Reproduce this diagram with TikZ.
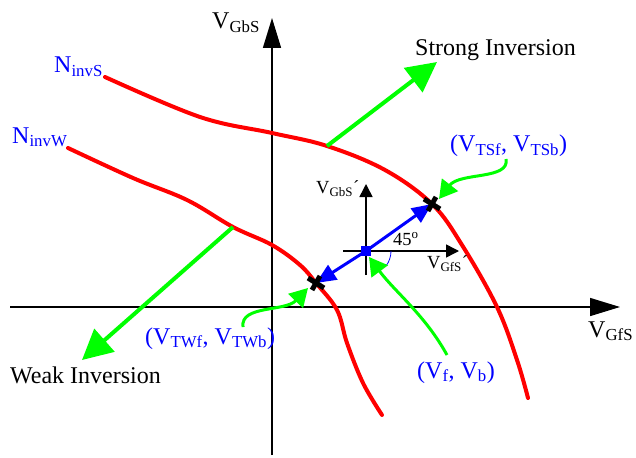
\documentclass[tikz,border=0pt]{standalone}
\usepackage{fontspec}
\setmainfont{Liberation Serif}
\usetikzlibrary{arrows.meta}
\tikzset{
  curve/.style={red,line width=4pt,line cap=round},
  mainaxis/.style={line width=1.5pt,-{Triangle[length=30pt,width=18pt]}},
  smallaxis/.style={line width=1.5pt,-{Triangle[length=13pt,width=13pt]}},
  bigarrow/.style={green,line width=4pt,-{Triangle[length=30pt,width=30pt]}},
  pointer/.style={green,line width=3pt,-{Triangle[length=18pt,width=20pt]}},
  shiftarrow/.style={blue,line width=3pt,-{Triangle[length=20pt,width=17pt]}},
  lbl/.style={anchor=base west,inner sep=0pt,font=\fontsize{24}{28}\selectfont},
  bluelbl/.style={lbl,blue},
  smalllbl/.style={anchor=base west,inner sep=0pt,font=\fontsize{18.5}{21}\selectfont},
  crossmark/.style={line width=5pt}
}
\begin{document}
\begin{tikzpicture}[x=1pt,y=-1pt]
  \useasboundingbox (0,0) rectangle (636,457);
  % main axes
  \coordinate (xl) at (10,307);
  \coordinate (xr) at (620,307);
  \coordinate (yb) at (272,455);
  \coordinate (yt) at (272,18);
  \draw[mainaxis] (xl) -- (xr);
  \draw[mainaxis] (yb) -- (yt);
  \node[lbl] (vgbs) at (212,29) {V\textsubscript{GbS}};
  \node[lbl] (vgfs) at (588,337) {V\textsubscript{GfS}};
  % threshold curves
  \node[bluelbl] (ninvs) at (54,73) {N\textsubscript{invS}};
  \node[bluelbl] (ninvw) at (12,143) {N\textsubscript{invW}};
  \draw[curve] plot[smooth,tension=0.6] coordinates {(105,77) (200,117) (272,133) (327,146)
    (385,170) (432,204) (462,245) (497,307) (517,360) (528,398)};
  \draw[curve] plot[smooth,tension=0.6] coordinates {(68,148) (133,178) (187,200) (233,227)
    (272,245) (300,265) (316,283) (337,310) (347,343) (363,383) (382,415)};
  \coordinate (cs) at (327,146);
  \coordinate (cw) at (233,227);
  % inversion directions
  \node[lbl] (strong) at (415,56) {Strong Inversion};
  \node[lbl] (weak) at (10,383) {Weak Inversion};
  \coordinate (stip) at (437,62);
  \coordinate (wtip) at (82,360);
  \draw[bigarrow] (cs) -- (stip);
  \draw[bigarrow] (cw) -- (wtip);
  % shifted axes at (V_f, V_b)
  \coordinate (o) at (366,251);
  \coordinate (ol) at (343,251);
  \coordinate (or) at (459,251);
  \coordinate (ob) at (366,275);
  \coordinate (ot) at (366,184);
  \draw[smallaxis] (ol) -- (or);
  \draw[smallaxis] (ob) -- (ot);
  \node[smalllbl] (vgbsp) at (316,193) {V\textsubscript{GbS}´};
  \node[smalllbl] (vgfsp) at (427,268) {V\textsubscript{GfS}´};
  \node[smalllbl] (ang) at (393,245) {45\textsuperscript{o}};
  \draw[blue,line width=0.8pt] (391,251) arc[start angle=0,end angle=36,radius=25];
  % thresholds along the 45 degree line
  \coordinate (ts) at (432,204);
  \coordinate (tw) at (316,283);
  \draw[shiftarrow] (o) -- (ts);
  \draw[shiftarrow] (o) -- (tw);
  \fill[blue] (361,246) rectangle (371,256);
  \draw[crossmark] (424,199) -- (440,209) (428,211) -- (436,197);
  \draw[crossmark] (308,278) -- (324,288) (312,290) -- (320,276);
  % labels of the points
  \node[bluelbl] (tslbl) at (450,152) {(V\textsubscript{TSf}, V\textsubscript{TSb})};
  \node[bluelbl] (twlbl) at (145,344) {(V\textsubscript{TWf}, V\textsubscript{TWb})};
  \node[bluelbl] (flbl) at (417,378) {(V\textsubscript{f}, V\textsubscript{b})};
  \coordinate (tsfoot) at (506,159);
  \coordinate (twfoot) at (243,327);
  \coordinate (ffoot) at (447,355);
  \draw[pointer] (tsfoot) .. controls (510,180) and (460,172) .. (439,199);
  \draw[pointer] (twfoot) .. controls (240,305) and (285,312) .. (308,288);
  \draw[pointer] (ffoot) .. controls (425,315) and (395,292) .. (369,257);
\end{tikzpicture}
\end{document}
